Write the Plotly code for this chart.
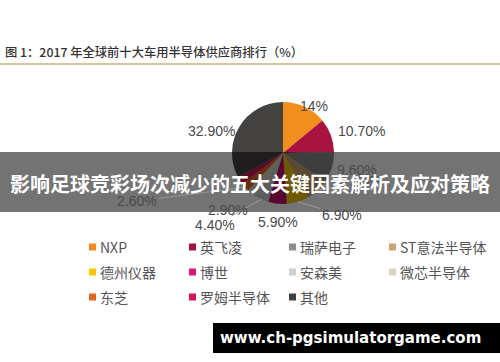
import math
import plotly.graph_objects as go

W, H = 500, 362

companies = ["NXP", "英飞凌", "瑞萨电子", "ST意法半导体", "德州仪器", "博世",
             "安森美", "微芯半导体", "东芝", "罗姆半导体", "其他"]
shares = [14.0, 10.7, 9.6, 7.6, 6.9, 5.9, 4.4, 2.9, 2.6, 2.5, 32.9]
labels_txt = ["14%", "10.70%", "9.60%", "7.60%", "6.90%", "5.90%",
              "4.40%", "2.90%", "2.60%", "", "32.90%"]
colors = ["#F28E1C", "#A8133F", "#8A8A8A", "#C9A46C", "#F2C500", "#C4106C",
          "#CFCFCF", "#DDD2BA", "#E2651C", "#D2145A", "#454242"]
# legend order (4 columns, row-major)
legend_order = ["NXP", "英飞凌", "瑞萨电子", "ST意法半导体", "德州仪器", "博世",
                "安森美", "微芯半导体", "东芝", "罗姆半导体", "其他"]
legend_colors = ["#EE8A1E", "#A0153E", "#8C8C8C", "#C8A66E", "#F5C800", "#E0157A",
                 "#D0D0D0", "#DED3BC", "#E0661E", "#D6145A", "#3F3F3F"]

title = "图 1：2017 年全球前十大车用半导体供应商排行（%）"
banner = "影响足球竞彩场次减少的五大关键因素解析及应对策略"
site = "www.ch-pgsimulatorgame.com"

# --- layout helpers (pixels -> paper) ---
def py(px):
    return 1 - px / H

def pxx(px):
    return px / W

CX, CY, R = 283, 153, 51          # pie centre / radius in pixels
# label offsets from slice edge (dx, dy pixels) and whether a leader line is drawn
label_style = [(9, -11, False), (31, -4, False), (25, 3, False), (44, -9, True),
               (44, 13, True), (1, 18, False), (-47, 26, True), (-24, 17, False),
               (-108, 14, True), (0, 0, False), (-28, 4, False)]

fig = go.Figure()
fig.add_trace(go.Pie(
    labels=companies, values=shares,
    textinfo="none",
    marker=dict(colors=colors, line=dict(width=0)),
    sort=False, direction="clockwise", rotation=0,
    domain=dict(x=[pxx(CX - R), pxx(CX + R)], y=[py(CY + R), py(CY - R)]),
    showlegend=False, hoverinfo="label+percent",
))

annotations = []
total = sum(shares)
cum = 0.0
for val, txt, (dx, dy, line) in zip(shares, labels_txt, label_style):
    mid = (cum + val / 2) / total * 2 * math.pi
    cum += val
    if not txt:
        continue
    ex = CX + R * math.sin(mid)
    ey = CY - R * math.cos(mid)
    common = dict(text=txt, xref="paper", yref="paper", x=pxx(ex), y=py(ey),
                  font=dict(size=14, color="#4a4a4a", family="Liberation Sans, Arial"))
    if line:
        annotations.append(dict(**common, showarrow=True, ax=dx, ay=dy, arrowhead=0,
                                arrowwidth=1, arrowcolor="#9a9a9a", standoff=0))
    else:
        annotations.append(dict(**common, showarrow=False, xshift=dx, yshift=-dy))

shapes = [
    dict(type="line", xref="paper", yref="paper", x0=0, x1=1, y0=py(64), y1=py(64),
         line=dict(color="#DCC39C", width=2)),
]

# manual legend: 4 columns x 3 rows
col_x = [89, 189, 289, 389]
row_y = [247, 272, 297]
for i, (name, c) in enumerate(zip(legend_order, legend_colors)):
    x0 = col_x[i % 4]
    y0 = row_y[i // 4]
    shapes.append(dict(type="rect", xref="paper", yref="paper",
                       x0=pxx(x0), x1=pxx(x0 + 7), y0=py(y0 + 3.5), y1=py(y0 - 3.5),
                       fillcolor=c, line=dict(width=0)))
    annotations.append(dict(text=name, xref="paper", yref="paper", x=pxx(x0 + 9), y=py(y0),
                            xanchor="left", yanchor="middle", showarrow=False,
                            font=dict(size=14, color="#555555")))

shapes += [
    dict(type="rect", xref="paper", yref="paper", x0=0, x1=1, y0=py(212), y1=py(152),
         fillcolor="rgba(0,0,0,0.55)", line=dict(width=0), layer="above"),
    dict(type="rect", xref="paper", yref="paper", x0=pxx(213), x1=1, y0=py(353), y1=py(323),
         fillcolor="black", line=dict(width=0), layer="above"),
]

annotations += [
    dict(text=title, xref="paper", yref="paper", x=pxx(3), y=py(52), xanchor="left",
         yanchor="middle", showarrow=False,
         font=dict(size=12.3, color="#333333", weight=500)),
    dict(text="<b>" + banner + "</b>", xref="paper", yref="paper", x=0.5, y=py(183),
         xanchor="center", yanchor="middle", showarrow=False,
         font=dict(size=20, color="white")),
    dict(text="<b>" + site + "</b>", xref="paper", yref="paper", x=pxx(350), y=py(338),
         xanchor="center", yanchor="middle", showarrow=False,
         font=dict(size=15, color="white", family="DejaVu Sans, Noto Sans")),
]

fig.update_layout(
    width=W, height=H,
    margin=dict(l=0, r=0, t=0, b=0),
    paper_bgcolor="white", plot_bgcolor="white",
    font=dict(family="Noto Sans CJK SC, Liberation Sans, Arial"),
    showlegend=False,
    shapes=shapes,
    annotations=annotations,
)

fig.write_html("out.html")
